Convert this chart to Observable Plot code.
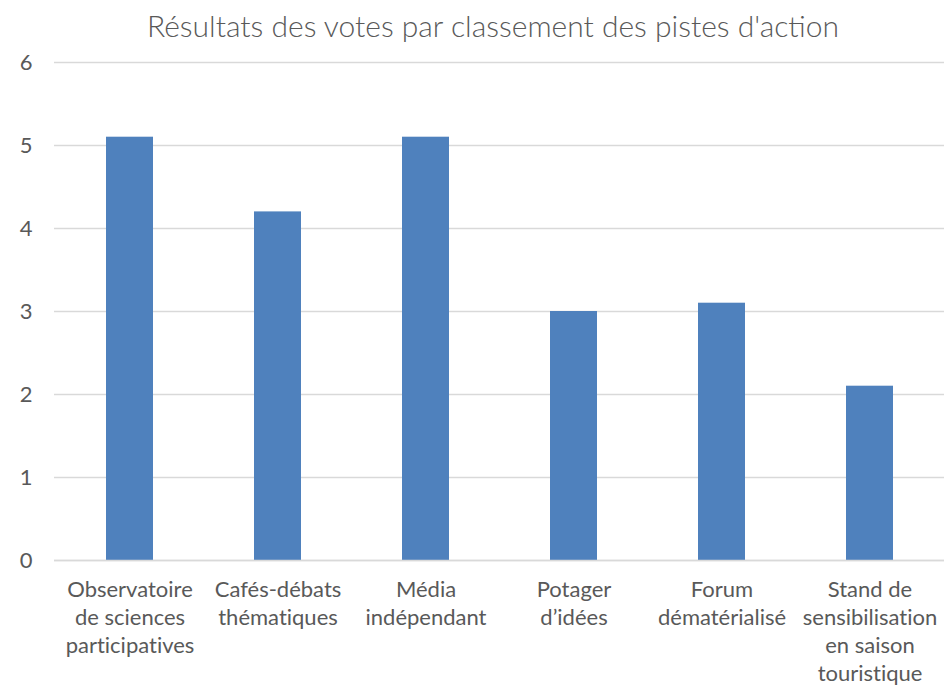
<!DOCTYPE html>
<html>
<head>
<meta charset="utf-8">
<script src="https://cdn.jsdelivr.net/npm/d3@7"></script>
<script src="https://cdn.jsdelivr.net/npm/@observablehq/plot@0.6"></script>
<style>
  body { margin: 0; background: #fff; }
  #title { font-family: Lato, "Open Sans", sans-serif; font-weight: 300; font-size: 30px; color: #595959;
           height: 50px; line-height: 50px; text-align: center; padding-left: 42px; box-sizing: border-box; width: 944px; white-space: nowrap; }
  svg text { font-variant-ligatures: none; }
</style>
</head>
<body>
<div id="title">Résultats des votes par classement des pistes d'action</div>
<div id="chart"></div>
<script>
const categories = [
  "Observatoire\nde sciences\nparticipatives",
  "Cafés-débats\nthématiques",
  "Média\nindépendant",
  "Potager\nd’idées",
  "Forum\ndématérialisé",
  "Stand de\nsensibilisation\nen saison\ntouristique"
];
const votes = [5.1, 4.2, 5.1, 3.0, 3.1, 2.1];
const yTicks = [0, 1, 2, 3, 4, 5, 6];

const data = categories.map((c, i) => ({category: c, value: votes[i]}));

const chart = Plot.plot({
  width: 944,
  height: 639,
  marginTop: 12,
  marginBottom: 129,
  marginLeft: 54,
  marginRight: 0,
  style: {fontFamily: "Lato, 'Open Sans', sans-serif", color: "#595959", background: "#fff", overflow: "visible"},
  x: {domain: categories, paddingInner: 0.685, paddingOuter: 0.3425, label: null},
  y: {domain: [0, 6], label: null},
  marks: [
    Plot.gridY(yTicks, {stroke: "#d9d9d9", strokeOpacity: 1, strokeWidth: 1.3}),
    Plot.barY(data, {x: "category", y: "value", fill: "#4f81bd"}),
    Plot.ruleY([0], {stroke: "#d9d9d9", strokeWidth: 1.3}),
    Plot.axisY(yTicks, {tickSize: 0, tickPadding: 22, fontSize: 22, fill: "#595959", tickFormat: d => String(d), label: null}),
    Plot.axisX({tickSize: 0, tickPadding: 17, fontSize: 22, fill: "#595959", lineHeight: 1.27, label: null})
  ]
});
document.getElementById("chart").appendChild(chart);
</script>
</body>
</html>
